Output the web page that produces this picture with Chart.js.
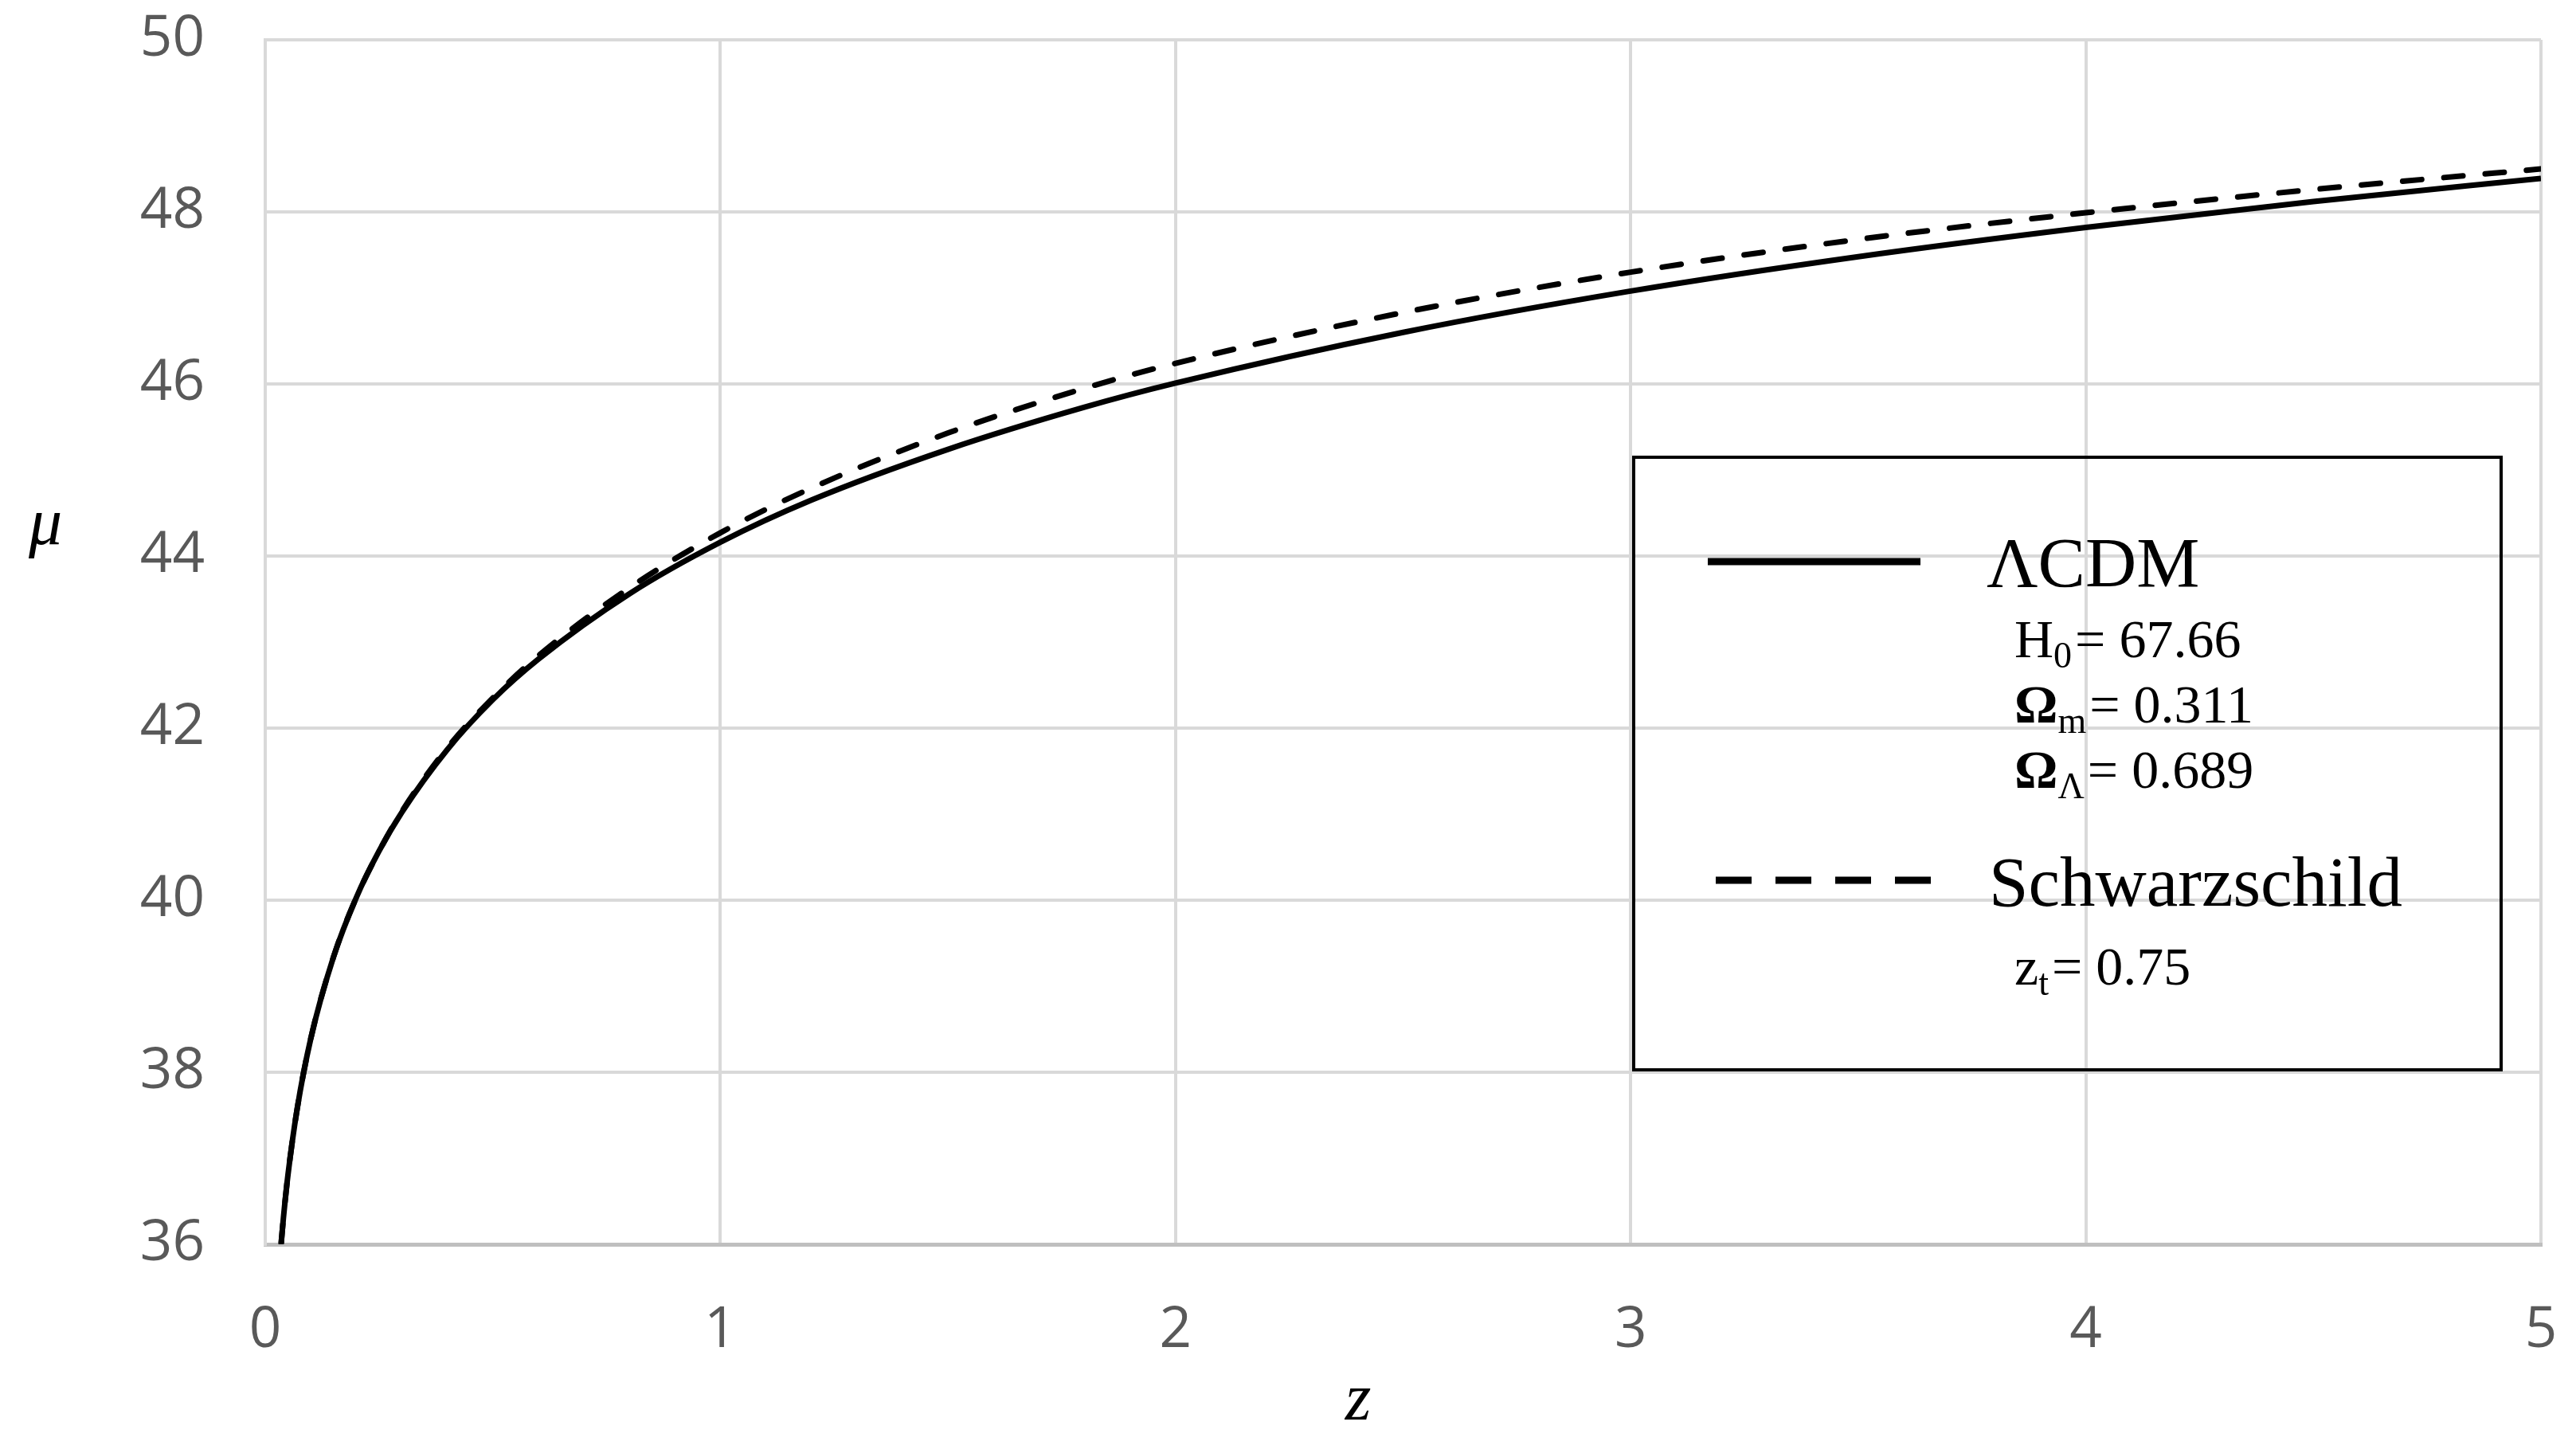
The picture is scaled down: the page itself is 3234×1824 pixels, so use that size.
<!DOCTYPE html>
<html>
<head>
<meta charset="utf-8">
<script src="https://cdn.jsdelivr.net/npm/chart.js@4.4.1/dist/chart.umd.min.js"></script>
<style>
  html, body { margin: 0; padding: 0; background: #fff; }
  #wrap { width: 3234px; height: 1824px; }
</style>
</head>
<body>
<div id="wrap"><canvas id="mu-z" width="3234" height="1824"></canvas></div>
<script>
// redshift z and distance modulus mu
var redshift = [0.035, 0.04, 0.05, 0.07, 0.1, 0.15, 0.2, 0.25, 0.3, 0.4, 0.5, 0.6, 0.8, 1.0,
                1.2, 1.5, 1.8, 2.0, 2.5, 3.0, 3.5, 4.0, 4.5, 5.0];
var lcdmMu = [36.01, 36.31, 36.81, 37.57, 38.39, 39.34, 40.03, 40.57, 41.02, 41.75, 42.33, 42.80, 43.56, 44.16,
              44.65, 45.24, 45.73, 46.01, 46.60, 47.08, 47.48, 47.82, 48.12, 48.39];
var schwarzschildMu = [36.01, 36.31, 36.81, 37.57, 38.39, 39.34, 40.03, 40.57, 41.03, 41.77, 42.35, 42.84, 43.63, 44.27,
                       44.79, 45.43, 45.95, 46.24, 46.83, 47.30, 47.68, 47.99, 48.26, 48.50];

var xTickValues = [0, 1, 2, 3, 4, 5];
var yTickValues = [36, 38, 40, 42, 44, 46, 48, 50];

var serif = '"Liberation Serif", "Times New Roman", serif';

function points(ys) {
    return redshift.map(function (z, i) { return { x: z, y: ys[i] }; });
}

// draws a run of text pieces (used for the subscripts in the legend)
function rich(ctx, x, y, parts) {
    parts.forEach(function (p) {
        ctx.font = (p.bold ? 'bold ' : '') + p.size + 'px ' + serif;
        ctx.fillText(p.text, x, y + (p.dy || 0));
        x += ctx.measureText(p.text).width + (p.gap || 0);
    });
}

// axis titles and the boxed legend
var annotations = {
    id: 'annotations',
    afterDraw: function (chart) {
        var ctx = chart.ctx;
        ctx.save();
        ctx.fillStyle = '#000';
        ctx.strokeStyle = '#000';
        ctx.textBaseline = 'alphabetic';

        // axis titles
        ctx.textAlign = 'center';
        ctx.font = 'italic 84px ' + serif;
        ctx.fillText('\u03bc', 57, 683);
        ctx.fillText('z', 1705, 1782);

        // legend box
        ctx.lineWidth = 4;
        ctx.strokeRect(2051, 574, 1089, 769);

        ctx.lineWidth = 9;
        ctx.lineCap = 'butt';
        ctx.beginPath();
        ctx.moveTo(2144, 705);
        ctx.lineTo(2411, 705);
        ctx.stroke();

        ctx.setLineDash([45, 30]);
        ctx.beginPath();
        ctx.moveTo(2154, 1105);
        ctx.lineTo(2424, 1105);
        ctx.stroke();
        ctx.setLineDash([]);

        ctx.textAlign = 'left';
        ctx.font = '89px ' + serif;
        ctx.fillText('\u039bCDM', 2494, 736);
        ctx.fillText('Schwarzschild', 2497, 1137);

        rich(ctx, 2529, 825, [
            { text: 'H', size: 68 },
            { text: '0', size: 46, dy: 13, gap: 4 },
            { text: '= 67.66', size: 68 }
        ]);
        rich(ctx, 2529, 907, [
            { text: '\u03a9', size: 68, bold: true },
            { text: 'm', size: 46, dy: 13, gap: 4 },
            { text: '= 0.311', size: 68 }
        ]);
        rich(ctx, 2529, 989, [
            { text: '\u03a9', size: 68, bold: true },
            { text: '\u039b', size: 46, dy: 13, gap: 4 },
            { text: '= 0.689', size: 68 }
        ]);
        rich(ctx, 2529, 1236, [
            { text: 'z', size: 68 },
            { text: 't', size: 46, dy: 13, gap: 4 },
            { text: '= 0.75', size: 68 }
        ]);
        ctx.restore();
    }
};

var chart = new Chart(document.getElementById('mu-z'), {
    type: 'line',
    data: {
        datasets: [
            {
                label: 'Schwarzschild',
                data: points(schwarzschildMu),
                borderColor: '#000',
                borderWidth: 7,
                borderDash: [24, 28],
                borderCapStyle: 'round',
                cubicInterpolationMode: 'monotone',
                pointRadius: 0,
                fill: false
            },
            {
                label: '\u039bCDM',
                data: points(lcdmMu),
                borderColor: '#000',
                borderWidth: 7,
                cubicInterpolationMode: 'monotone',
                pointRadius: 0,
                fill: false
            }
        ]
    },
    options: {
        responsive: false,
        devicePixelRatio: 1,
        animation: false,
        layout: { padding: { top: 50, right: 44, bottom: 0, left: 0 } },
        plugins: {
            legend: { display: false },
            tooltip: { enabled: false }
        },
        scales: {
            x: {
                type: 'linear',
                min: xTickValues[0],
                max: xTickValues[xTickValues.length - 1],
                afterBuildTicks: function (scale) {
                    scale.ticks = xTickValues.map(function (v) { return { value: v }; });
                },
                afterFit: function (scale) {
                    scale.height = 262;
                    scale.paddingLeft = 0;
                    scale.paddingRight = 0;
                },
                grid: { color: '#d9d9d9', lineWidth: 4, drawTicks: false },
                border: { color: '#bfbfbf', width: 5 },
                ticks: {
                    padding: 66,
                    color: '#595959',
                    font: { family: '"Open Sans", sans-serif', size: 71 }
                }
            },
            y: {
                min: yTickValues[0],
                max: yTickValues[yTickValues.length - 1],
                afterBuildTicks: function (scale) {
                    scale.ticks = yTickValues.map(function (v) { return { value: v }; });
                },
                afterFit: function (scale) {
                    scale.width = 333;
                    scale.paddingTop = 0;
                    scale.paddingBottom = 0;
                },
                grid: { color: '#d9d9d9', lineWidth: 4, drawTicks: false },
                border: { color: '#d9d9d9', width: 4 },
                ticks: {
                    padding: 76,
                    color: '#595959',
                    font: { family: '"Open Sans", sans-serif', size: 71 }
                }
            }
        }
    },
    plugins: [annotations]
});
</script>
</body>
</html>
